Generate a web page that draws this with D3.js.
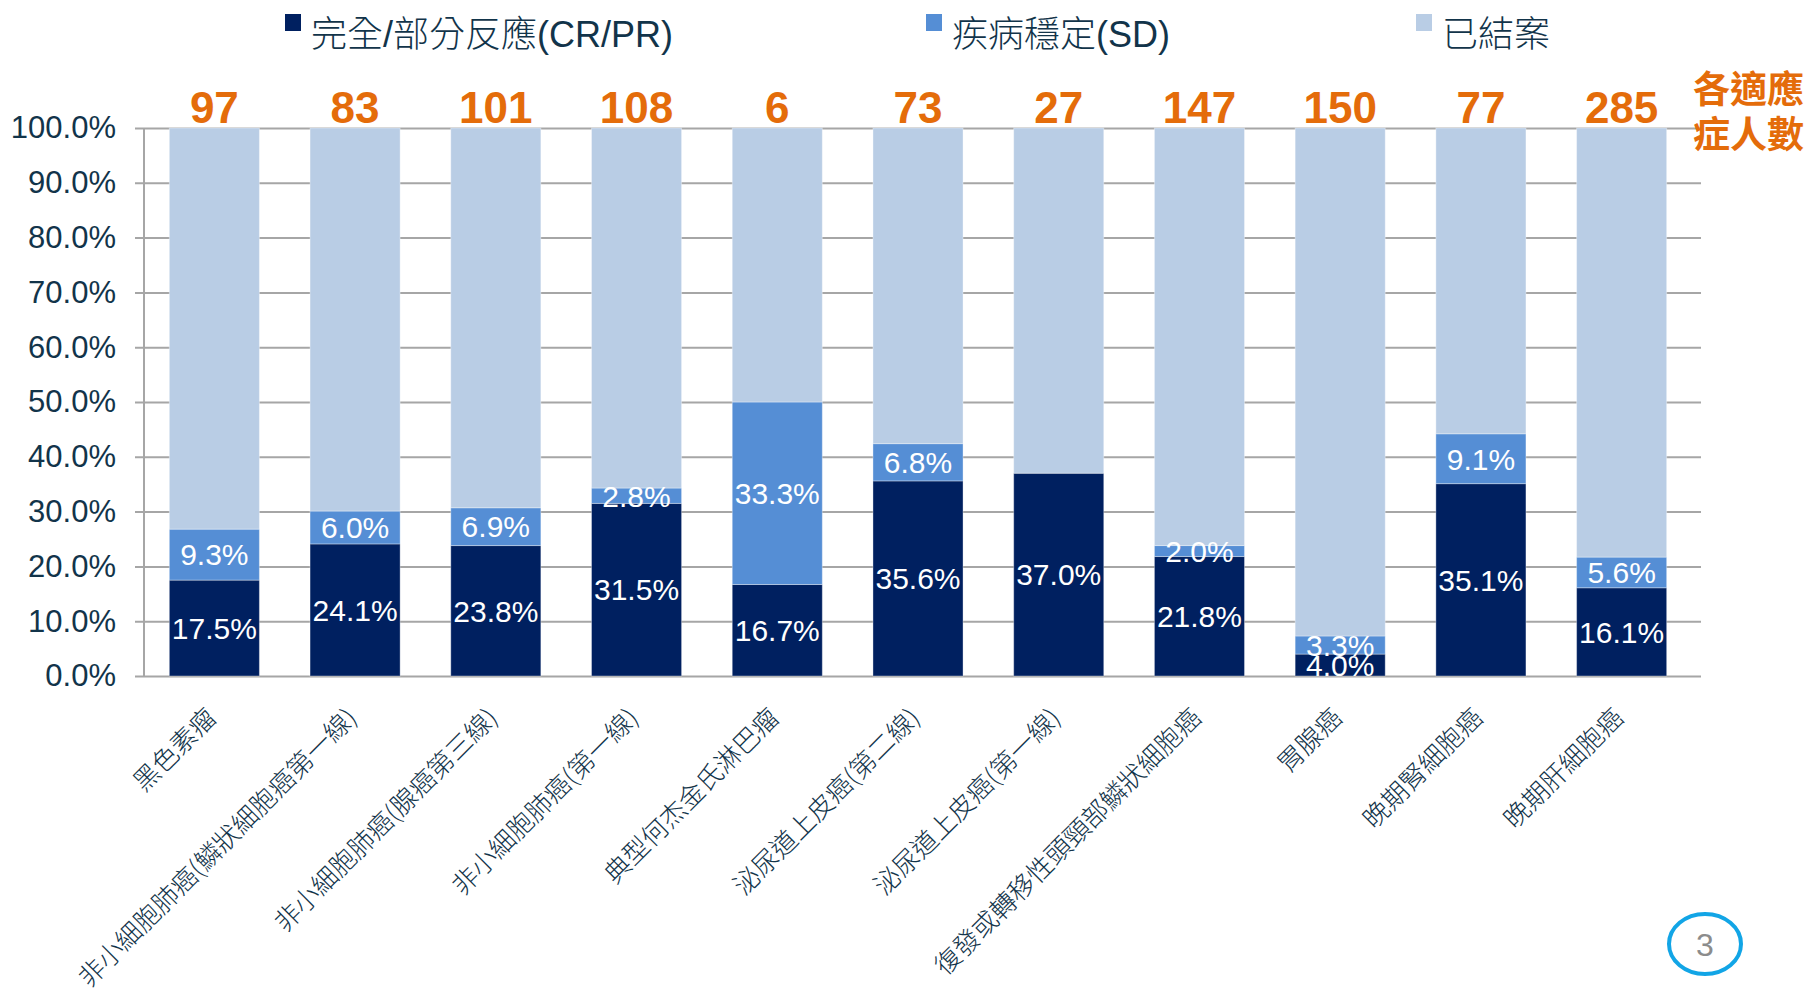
<!DOCTYPE html>
<html>
<head>
<meta charset="utf-8">
<script src="https://cdn.jsdelivr.net/npm/d3@7"></script>
<style>
  body { margin: 0; background: #fff; }
  svg text { font-family: "Liberation Sans", Arial, sans-serif; }
</style>
</head>
<body>
<div id="chart"></div>
<script>
// chart data
var categories = ["黑色素瘤", "非小細胞肺癌(鱗狀細胞癌第一線)", "非小細胞肺癌(腺癌第三線)", "非小細胞肺癌(第一線)",
  "典型何杰金氏淋巴瘤", "泌尿道上皮癌(第二線)", "泌尿道上皮癌(第一線)", "復發或轉移性頭頸部鱗狀細胞癌",
  "胃腺癌", "晚期腎細胞癌", "晚期肝細胞癌"];
var crpr = [17.5, 24.1, 23.8, 31.5, 16.7, 35.6, 37.0, 21.8, 4.0, 35.1, 16.1];
var sd = [9.3, 6.0, 6.9, 2.8, 33.3, 6.8, 0, 2.0, 3.3, 9.1, 5.6];
var counts = [97, 83, 101, 108, 6, 73, 27, 147, 150, 77, 285];
var seriesNames = ["完全/部分反應(CR/PR)", "疾病穩定(SD)", "已結案"];
var yTicks = [0, 10, 20, 30, 40, 50, 60, 70, 80, 90, 100];

var colors = ["#002060", "#558ED5", "#B9CDE5"];
var textColor = "#12344a";
var orange = "#E46C0A";

var svgWidth = 1808;
var svgHeight = 991;
var margin = { top: 128, right: 116, bottom: 315, left: 144 };
var width = svgWidth - margin.left - margin.right;
var height = svgHeight - margin.top - margin.bottom;

var svg = d3.select("#chart")
  .append("svg")
  .attr("width", svgWidth)
  .attr("height", svgHeight);

var chartGroup = svg.append("g")
  .attr("transform", `translate(${margin.left}, ${margin.top})`);

// build stacked rows
var rows = categories.map(function(c, i) {
  return { cat: c, crpr: crpr[i], sd: sd[i], closed: +(100 - crpr[i] - sd[i]).toFixed(1), n: counts[i] };
});
var stack = d3.stack().keys(["crpr", "sd", "closed"]);
var layers = stack(rows);

var xScale = d3.scaleBand()
  .domain(categories)
  .range([0, width])
  .paddingInner(0.36)
  .paddingOuter(0.18);

var yScale = d3.scaleLinear()
  .domain([0, 100])
  .range([height, 0]);

// grid lines + y axis
var leftAxis = d3.axisLeft(yScale)
  .tickValues(yTicks)
  .tickSize(-width - 9)
  .tickPadding(20)
  .tickFormat(d => d.toFixed(1) + "%");

var yAxis = chartGroup.append("g")
  .attr("transform", "translate(-9,0)")
  .call(leftAxis);
yAxis.select(".domain").remove();
yAxis.selectAll(".tick line")
  .attr("transform", "translate(9,0)")
  .attr("x1", -9)
  .attr("stroke", "#a6a6a6")
  .attr("stroke-width", 2);
yAxis.selectAll(".tick text")
  .attr("x", -19)
  .attr("font-size", "31px")
  .attr("fill", textColor);

chartGroup.append("line")
  .attr("x1", 0).attr("x2", 0)
  .attr("y1", 0).attr("y2", height)
  .attr("stroke", "#a6a6a6")
  .attr("stroke-width", 2);

// bars
chartGroup.selectAll(".layer")
  .data(layers)
  .enter()
  .append("g")
  .attr("class", "layer")
  .attr("fill", (d, i) => colors[i])
  .selectAll("rect")
  .data(d => d)
  .enter()
  .append("rect")
  .attr("x", d => xScale(d.data.cat))
  .attr("y", d => yScale(d[1]))
  .attr("width", xScale.bandwidth())
  .attr("height", d => yScale(d[0]) - yScale(d[1]))
  .attr("stroke", "#ffffff")
  .attr("stroke-opacity", 0.35)
  .attr("stroke-width", 1);

// value labels (CR/PR and SD only)
layers.slice(0, 2).forEach(function(layer) {
  chartGroup.selectAll(null)
    .data(layer.filter(d => d[1] - d[0] > 0))
    .enter()
    .append("text")
    .attr("x", d => xScale(d.data.cat) + xScale.bandwidth() / 2)
    .attr("y", d => yScale((d[0] + d[1]) / 2))
    .attr("dy", "0.36em")
    .attr("text-anchor", "middle")
    .attr("fill", "#ffffff")
    .attr("font-size", "30px")
    .text(d => (d[1] - d[0]).toFixed(1) + "%");
});

// counts above bars
chartGroup.selectAll(".count")
  .data(rows)
  .enter()
  .append("text")
  .attr("class", "count")
  .attr("x", d => xScale(d.cat) + xScale.bandwidth() / 2)
  .attr("y", -5)
  .attr("text-anchor", "middle")
  .attr("fill", orange)
  .attr("font-size", "44px")
  .attr("font-weight", "bold")
  .text(d => d.n);

var nLabel = svg.append("text")
  .attr("x", 1693)
  .attr("fill", orange)
  .attr("font-size", "37px")
  .attr("font-weight", "bold")
  .style("font-family", "'Noto Sans CJK TC', sans-serif");
nLabel.append("tspan").attr("x", 1693).attr("y", 103).text("各適應");
nLabel.append("tspan").attr("x", 1693).attr("y", 148).text("症人數");

// category labels
chartGroup.selectAll(".catLabel")
  .data(categories)
  .enter()
  .append("text")
  .attr("class", "catLabel")
  .attr("transform", d => `translate(${xScale(d) + xScale.bandwidth() / 2 - 3}, ${height + 37}) rotate(-45)`)
  .attr("dy", "0.35em")
  .attr("text-anchor", "end")
  .attr("fill", textColor)
  .attr("font-size", "26px")
  .attr("font-weight", 300)
  .style("font-family", "'Noto Sans CJK TC', sans-serif")
  .text(d => d);

// legend
var legendX = [285, 926, 1416];
var legend = svg.selectAll(".legend")
  .data(seriesNames)
  .enter()
  .append("g")
  .attr("class", "legend")
  .attr("transform", (d, i) => `translate(${legendX[i]}, 0)`);
legend.append("rect")
  .attr("x", 0).attr("y", 14)
  .attr("width", 16).attr("height", 17)
  .attr("fill", (d, i) => colors[i]);
legend.append("text")
  .attr("x", 26).attr("y", 47)
  .attr("fill", textColor)
  .attr("font-size", "36px")
  .attr("font-weight", 300)
  .style("font-family", "'Liberation Sans', 'Noto Sans CJK TC', sans-serif")
  .text(d => d);

// page number
svg.append("ellipse")
  .attr("cx", 1705).attr("cy", 944)
  .attr("rx", 36).attr("ry", 30)
  .attr("fill", "none")
  .attr("stroke", "#12a5e6")
  .attr("stroke-width", 4);
svg.append("text")
  .attr("x", 1705).attr("y", 956)
  .attr("text-anchor", "middle")
  .attr("fill", "#8c8c8c")
  .attr("font-size", "32px")
  .text("3");
</script>
</body>
</html>
